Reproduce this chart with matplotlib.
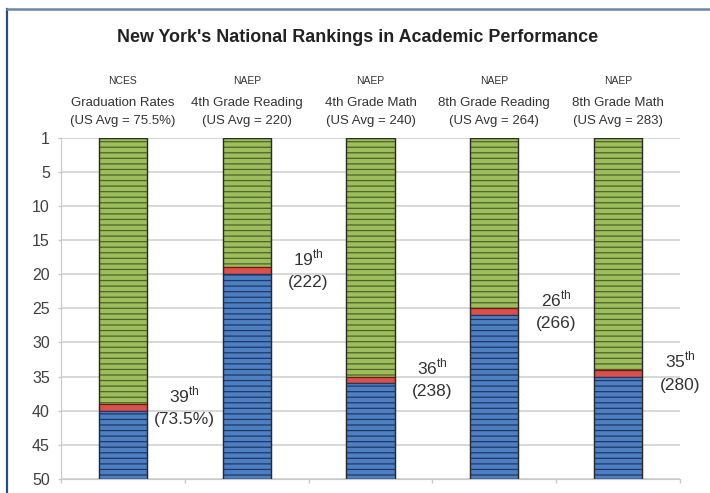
import matplotlib
matplotlib.use("Agg")
import matplotlib.pyplot as plt
from matplotlib.lines import Line2D
import numpy as np

plt.rcParams['font.family'] = ['Liberation Sans', 'DejaVu Sans']
plt.rcParams['mathtext.fontset'] = 'custom'
plt.rcParams['mathtext.rm'] = 'Liberation Sans'
plt.rcParams['hatch.linewidth'] = 0.9

# ---- data ----
sources = ['NCES', 'NAEP', 'NAEP', 'NAEP', 'NAEP']
categories = ['Graduation Rates', '4th Grade Reading', '4th Grade Math',
              '8th Grade Reading', '8th Grade Math']
us_avg = ['75.5%', '220', '240', '264', '283']
ranks = [39, 19, 36, 26, 35]
ny_scores = ['73.5%', '222', '238', '266', '280']
# segment lengths as drawn in the chart (green above, one red unit, blue below)
green_len = [39, 19, 35, 25, 34]
red_len = [1, 1, 1, 1, 1]
n_states = 50
ytick_pos = [0, 5, 10, 15, 20, 25, 30, 35, 40, 45, 50]
ytick_labels = ['1', '5', '10', '15', '20', '25', '30', '35', '40', '45', '50']

title = "New York's National Rankings in Academic Performance"

# ---- styling ----
green, green_line = '#9DBE5C', '#4F6228'
red, red_line = '#D9504C', '#6E1A17'
blue, blue_line = '#4E7FC3', '#1F3864'
grid_c = '#D4D4D4'
text_c = '#333333'

W, H = 710, 493
fig = plt.figure(figsize=(W / 100, H / 100), dpi=100)
fig.patch.set_facecolor('white')
ax = fig.add_axes([61 / W, 14 / H, 619 / W, 341.5 / H])

x = np.arange(len(categories))
bar_w = 0.39
g = np.array(green_len)
rl = np.array(red_len)
blue_len = n_states - g - rl

ax.bar(x, g, bottom=0, width=bar_w, color=green, edgecolor=green_line,
       hatch='---', linewidth=0.9, zorder=3)
ax.bar(x, rl, bottom=g, width=bar_w, color=red, edgecolor=red_line,
       linewidth=0.9, zorder=3)
ax.bar(x, blue_len, bottom=g + rl, width=bar_w, color=blue,
       edgecolor=blue_line, hatch='---', linewidth=0.9, zorder=3)
# outline
ax.bar(x, n_states, bottom=0, width=bar_w, fill=False, edgecolor='#2a2a2a',
       linewidth=0.9, zorder=4)

ax.set_xlim(-0.5, len(categories) - 0.5)
ax.set_ylim(n_states, 0)
ax.set_yticks(ytick_pos)
ax.set_yticklabels(ytick_labels)
ax.set_xticks(np.arange(-0.5, len(categories), 1.0))
ax.set_xticklabels([])
ax.tick_params(axis='y', length=2.5, width=1, color='#C8C8C8', pad=5.5,
               labelsize=11.5, labelcolor='#404040')
ax.tick_params(axis='x', length=3, width=1, color='#C8C8C8')
ax.yaxis.grid(True, color=grid_c, linewidth=1.3, zorder=0)
ax.set_axisbelow(True)
for s in ['top', 'right']:
    ax.spines[s].set_visible(False)
ax.spines['left'].set_color('#C8C8C8')
ax.spines['bottom'].set_color('#C8C8C8')

# header labels above bars
for i in range(len(categories)):
    ax.text(x[i], -8.3, sources[i], ha='center', va='center', fontsize=7.5,
            color=text_c, clip_on=False)
    ax.text(x[i], -5.0, categories[i], ha='center', va='center', fontsize=9.5,
            color=text_c, clip_on=False)
    ax.text(x[i], -2.4, '(US Avg = ' + us_avg[i] + ')', ha='center',
            va='center', fontsize=9.5, color=text_c, clip_on=False)

# annotations
for i, r in enumerate(ranks):
    mid = g[i] + 0.5
    ax.text(x[i] + 0.5, mid - 1.85, r'%d$^{\rm th}$' % r, ha='center',
            va='center', fontsize=12.5, color=text_c, zorder=5)
    ax.text(x[i] + 0.5, mid + 1.75, '(' + ny_scores[i] + ')', ha='center',
            va='center', fontsize=12.5, color=text_c, zorder=5)

fig.text(358 / W, 1 - 38 / H, title, ha='center', va='center',
         fontsize=12.9, fontweight='bold', color='#222222')

# frame (top and left edges)
fig.add_artist(Line2D([7 / W, 7 / W], [0, 1 - 9 / H], color='#2E4E7A',
                      linewidth=1.6, transform=fig.transFigure))
fig.add_artist(Line2D([7 / W, 1], [1 - 9 / H, 1 - 9 / H], color='#6A86A8',
                      linewidth=1.8, transform=fig.transFigure))

fig.savefig('out.png', dpi=100)
